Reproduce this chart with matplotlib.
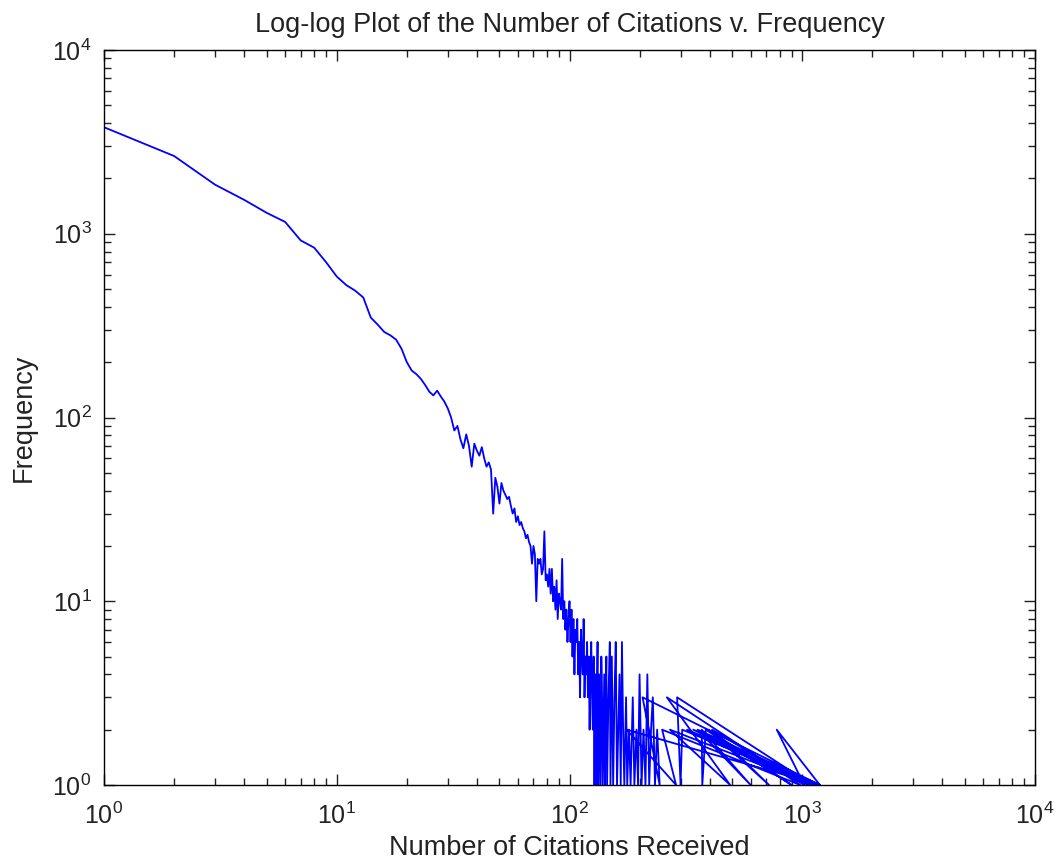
import numpy as np
import matplotlib.pyplot as plt

plt.rcParams['font.family'] = ['Liberation Sans', 'DejaVu Sans']
plt.rcParams['mathtext.default'] = 'regular'

# citations 1..30, smooth part of the curve
counts_smooth = [1, 2, 3, 4, 5, 6, 7, 8, 9, 10,
                 11, 12, 13, 14, 15, 16, 17, 18, 19, 20,
                 21, 22, 23, 24, 25, 26, 27, 28, 29, 30]
freq_smooth = [3800, 2650, 1850, 1530, 1300, 1160, 920, 840, 700, 585,
               525, 490, 450, 350, 320, 292, 280, 265, 236, 200,
               180, 172, 162, 150, 138, 132, 140, 130, 122, 112]

# citations 31..145, noisy part
counts_noisy = [31, 32, 33, 34, 35, 36, 37, 38, 39, 40,
                41, 42, 43, 44, 45, 46, 47, 48, 49, 50,
                51, 52, 53, 54, 55, 56, 57, 58, 59, 60,
                61, 62, 63, 64, 65, 66, 67, 68, 69, 70,
                71, 72, 73, 74, 75, 76, 77, 78, 79, 80,
                81, 82, 83, 84, 85, 86, 87, 88, 89, 90,
                91, 92, 93, 94, 95, 96, 97, 98, 99, 100,
                101, 102, 103, 104, 105, 106, 107, 108, 109, 110,
                111, 112, 113, 114, 115, 116, 117, 118, 119, 120,
                121, 122, 123, 124, 125, 126, 127, 128, 129, 130,
                131, 132, 133, 134, 135, 136, 137, 138, 139, 140,
                141, 142, 143, 144, 145]
freq_noisy = [100, 85, 90, 76, 68, 81, 70, 54, 72, 66,
              62, 69, 60, 54, 57, 52, 30, 47, 42, 34,
              44, 40, 38, 36, 37, 33, 30, 32, 27, 29,
              26, 27, 25, 24, 22, 23, 21, 20, 16, 20,
              18, 10, 17, 16, 17, 14, 15, 24, 13, 14,
              12, 15, 11, 15, 10, 12, 9, 13, 8, 11,
              10, 9, 17, 8, 10, 7, 9, 6, 8, 10,
              6, 9, 5, 8, 4, 7, 6, 8, 4, 6,
              3, 7, 5, 4, 8, 3, 5, 4, 6, 3,
              5, 2, 4, 6, 3, 2, 5, 1, 4, 1,
              3, 6, 1, 4, 2, 1, 5, 3, 1, 2,
              4, 1, 3, 5, 1]

# sparse counts above 145
counts_sparse = [147, 149, 150, 152, 154, 156, 158, 160, 162, 164,
                 166, 168, 170, 172, 175, 177, 180, 183, 187, 190,
                 194, 197, 200, 204, 208, 212, 216, 220, 224, 228,
                 233, 238, 244]
freq_sparse = [3, 6, 1, 5, 1, 3, 6, 1, 2, 4,
               1, 6, 2, 1, 3, 1, 2, 1, 3, 1,
               2, 1, 4, 1, 2, 1, 4, 1, 2, 3,
               1, 2, 1]

# tail, stored out of order
counts_tail = [206, 1190, 176, 287, 250, 980, 262, 490, 270, 1105,
               290, 300, 305, 1150, 320, 1060, 340, 1190, 355, 600,
               370, 372, 385, 900, 395, 720, 410, 1020, 777, 1190]
freq_tail = [3, 1, 2, 1, 2, 1, 3, 1, 2, 1,
             3, 1, 2, 1, 2, 1, 2, 1, 2, 1,
             2, 1, 2, 1, 2, 1, 2, 1, 2, 1]

cites = np.concatenate([counts_smooth, counts_noisy, counts_sparse, counts_tail])
freq = np.concatenate([freq_smooth, freq_noisy, freq_sparse, freq_tail])

fig = plt.figure(figsize=(10.56, 8.67), dpi=100)
ax = fig.add_axes([0.0985, 0.0946, 0.8816, 0.8477])
ax.loglog(cites, freq, color='b', linewidth=1.3)
ax.set_xlim(1, 1e4)
ax.set_ylim(1, 1e4)

ax.tick_params(which='both', direction='in', top=True, right=True,
               labelsize=18, colors='#222222')
ax.tick_params(which='major', length=8, width=1)
ax.tick_params(which='minor', length=5, width=1)
ax.tick_params(axis='x', which='major', pad=13)
ax.tick_params(axis='y', which='major', pad=9)
for s in ax.spines.values():
    s.set_linewidth(1.0)

ax.set_title('Log-log Plot of the Number of Citations v. Frequency',
             fontsize=19.5, pad=13, color='#222222')
ax.set_xlabel('Number of Citations Received', fontsize=19.5, color='#222222')
ax.set_ylabel('Frequency', fontsize=19.5, color='#222222')
ax.xaxis.set_label_coords(0.5, -0.068)
ax.yaxis.set_label_coords(-0.072, 0.5)

fig.savefig('out.png', dpi=100)
